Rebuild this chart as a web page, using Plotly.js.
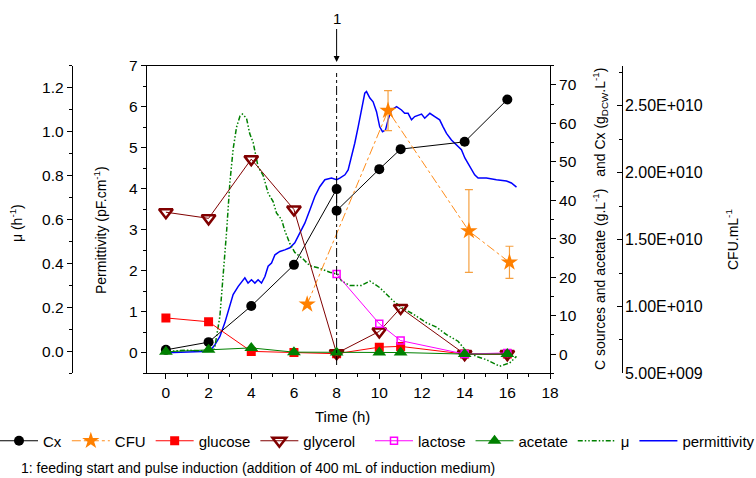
<!DOCTYPE html>
<html><head><meta charset="utf-8">
<script src="https://cdn.plot.ly/plotly-3.0.1.min.js"></script>
<style>html,body{margin:0;padding:0;background:#fff}#chart{width:756px;height:478px}</style>
</head><body><div id="chart"></div>
<script>
// ---- data ----
const cxTime = [0, 2, 4, 6, 8, 8, 10, 11, 14, 16];
const cxValues = [1.1, 3.1, 12.5, 23.2, 42.9, 37.3, 48.1, 53.3, 55.2, 66.2];

const cfuTime = [6.62, 10.41, 14.2, 16.1];
const cfuValues = [1.016e10, 2.464e10, 1.564e10, 1.330e10];
const cfuError = [0, 1.5e9, 3.1e9, 1.2e9];

const sampleTime = [0, 2, 4, 6, 8, 10, 11, 14, 16];
const glucoseValues = [9.4, 8.4, 0.7, 0.4, 0.1, 1.8, 2.0, 0, 0];
const glycerolValues = [36.9, 35.3, 50.7, 37.6, 0.2, 5.9, 12.0, 0, 0];
const acetateValues = [0.6, 1.1, 1.6, 0.5, 0.4, 0.4, 0.4, 0, 0];

const lactoseTime = [8, 10, 11, 14, 16];
const lactoseValues = [20.8, 7.9, 3.5, 0, 0.3];

const muTime = [0, 1.0, 2.22, 2.3, 2.53, 2.68, 2.84, 3.0, 3.15, 3.31, 3.47, 3.59, 3.78, 3.93, 4.09, 4.32, 4.56, 4.79, 5.03, 5.18, 5.42, 5.57, 5.81, 6.04, 6.43, 6.74, 7.13, 7.68, 8.07, 8.23, 8.62, 9.17, 9.56, 10.02, 10.34, 10.65, 11.04, 11.58, 12.21, 12.68, 13.15, 13.69, 14.08, 14.55, 15.02, 15.49, 15.64, 16.11, 16.43];
const muValues = [0, 0.005, 0.0, 0.023, 0.16, 0.33, 0.54, 0.77, 0.92, 1.02, 1.07, 1.08, 1.06, 0.99, 0.95, 0.84, 0.80, 0.72, 0.68, 0.63, 0.60, 0.55, 0.49, 0.45, 0.42, 0.39, 0.38, 0.36, 0.35, 0.32, 0.30, 0.30, 0.32, 0.29, 0.26, 0.23, 0.20, 0.17, 0.13, 0.11, 0.076, 0.046, 0.0, -0.023, -0.038, -0.06, -0.068, -0.053, -0.023];

const permTime = [0, 1.6, 2.06, 2.3, 2.53, 2.76, 3.0, 3.15, 3.39, 3.55, 3.7, 3.85, 4.01, 4.17, 4.32, 4.48, 4.64, 4.79, 4.95, 5.11, 5.34, 5.57, 5.81, 6.04, 6.27, 6.51, 6.75, 6.98, 7.21, 7.45, 7.76, 8.0, 8.15, 8.39, 8.54, 8.7, 8.85, 9.01, 9.17, 9.32, 9.4, 9.56, 9.71, 9.87, 10.02, 10.15, 10.29, 10.41, 10.57, 10.81, 11.04, 11.19, 11.35, 11.51, 11.66, 11.98, 12.13, 12.37, 12.6, 12.83, 12.99, 13.15, 13.38, 13.62, 13.85, 14.01, 14.24, 14.47, 14.63, 15.02, 15.49, 15.96, 16.19, 16.43];
const permValues = [0.0, 0.02, 0.04, 0.2, 0.4, 0.73, 1.13, 1.42, 1.62, 1.74, 1.83, 1.7, 1.78, 1.7, 1.78, 1.7, 1.86, 2.11, 2.19, 2.39, 2.47, 2.51, 2.56, 2.68, 2.92, 3.16, 3.49, 3.81, 4.05, 4.22, 4.26, 4.22, 4.26, 4.34, 4.46, 4.78, 5.11, 5.51, 5.92, 6.33, 6.37, 6.21, 6.12, 5.88, 5.51, 5.39, 5.43, 5.68, 5.92, 6.0, 5.92, 5.84, 5.84, 5.68, 5.76, 5.82, 5.72, 5.84, 5.76, 5.68, 5.51, 5.35, 5.19, 5.07, 4.95, 4.75, 4.54, 4.34, 4.26, 4.26, 4.22, 4.19, 4.14, 4.04];

const cfuTickVals = [5e9, 1e10, 1.5e10, 2e10, 2.5e10];
const cfuTickText = ['5.00E+009', '1.00E+010', '1.50E+010', '2.00E+010', '2.50E+010'];
const cfuMinorVals = [7.5e9, 1.25e10, 1.75e10, 2.25e10, 2.75e10];
const feedTime = 8;

// ---- layout geometry ----
const W = 756, H = 478;
const FONT = 'Liberation Sans, Arial, Helvetica, sans-serif';
const px = v => v / W;
const py = v => 1 - v / H;
const yDom = [py(373.3), py(65.7)];
const tickFont = {family: FONT, size: 15.5, color: '#000'};

const traces = [
  {x: cxTime, y: cxValues, yaxis: 'y3', name: 'Cx', mode: 'lines+markers', legend: 'legend',
   line: {color: '#000', width: 1}, marker: {symbol: 'circle', size: 10, color: '#000'}},
  {x: cfuTime, y: cfuValues, yaxis: 'y4', name: 'CFU', mode: 'lines+markers', legend: 'legend',
   line: {color: '#FF8C1A', width: 1, dash: 'dashdot'},
   marker: {symbol: 'star', size: 13, color: '#FF8000'},
   error_y: {type: 'data', array: cfuError, visible: true, color: '#F5A040', thickness: 1.2, width: 4}},
  {x: sampleTime, y: glucoseValues, yaxis: 'y3', name: 'glucose', mode: 'lines+markers', legend: 'legend',
   line: {color: '#FF0000', width: 1}, marker: {symbol: 'square', size: 9, color: '#FF0000'}},
  {x: sampleTime, y: glycerolValues, yaxis: 'y3', name: 'glycerol', mode: 'lines+markers', legend: 'legend',
   line: {color: '#800000', width: 1},
   marker: {symbol: 'triangle-down-open', size: 12, color: '#800000', line: {width: 2.5, color: '#800000'}}},
  {x: lactoseTime, y: lactoseValues, yaxis: 'y3', name: 'lactose', mode: 'lines+markers', legend: 'legend2',
   line: {color: '#FF00FF', width: 1},
   marker: {symbol: 'square-open', size: 7, color: '#FF00FF', line: {width: 1.5, color: '#FF00FF'}}},
  {x: sampleTime, y: acetateValues, yaxis: 'y3', name: 'acetate', mode: 'lines+markers', legend: 'legend2',
   line: {color: '#008000', width: 1}, marker: {symbol: 'triangle-up', size: 12, color: '#008000'}},
  {x: muTime, y: muValues, yaxis: 'y2', name: 'μ', mode: 'lines', legend: 'legend2',
   line: {color: '#008000', width: 1.5, dash: '5px,2px,1.5px,2px,1.5px,2px'}},
  {x: permTime, y: permValues, yaxis: 'y', name: 'permittivity', mode: 'lines', legend: 'legend2',
   line: {color: '#0000FF', width: 1.5}}
];

const axisCommon = {
  showgrid: false, zeroline: false, showline: true, linecolor: '#000', linewidth: 1,
  tickcolor: '#000', tickfont: tickFont, ticklen: 5, tickwidth: 1
};

function title(text, x, y, angle, size) {
  return {x: px(x), y: py(y), xref: 'paper', yref: 'paper', xanchor: 'center', yanchor: 'middle',
          text: text, textangle: angle, showarrow: false,
          font: {family: FONT, size: size, color: '#000'}};
}

const legendCommon = {
  orientation: 'h', xanchor: 'left', y: py(441), yanchor: 'middle', itemwidth: 38,
  font: {family: FONT, size: 15, color: '#000'}, bgcolor: 'rgba(0,0,0,0)', traceorder: 'normal'
};

const layout = {
  width: W, height: H, autosize: false,
  margin: {l: 0, r: 0, t: 0, b: 0, autoexpand: false},
  paper_bgcolor: '#fff', plot_bgcolor: 'rgba(0,0,0,0)',
  font: {family: FONT, color: '#000'},
  xaxis: Object.assign({}, axisCommon, {
    domain: [px(146.7), px(550)], range: [-0.9, 18], dtick: 2, tick0: 0,
    ticks: 'outside', mirror: true,
    minor: {dtick: 1, ticks: 'outside', ticklen: 3, tickcolor: '#000'}
  }),
  yaxis: Object.assign({}, axisCommon, {
    domain: yDom, range: [-0.5, 7], dtick: 1, tick0: 0, ticks: 'outside', side: 'left',
    minor: {dtick: 0.5, ticks: 'outside', ticklen: 3, tickcolor: '#000'}
  }),
  yaxis2: Object.assign({}, axisCommon, {
    overlaying: 'y', anchor: 'free', position: px(71.7), side: 'left',
    range: [-0.1, 1.3], dtick: 0.2, tick0: 0, tickformat: '.1f', ticks: 'outside',
    minor: {dtick: 0.1, ticks: 'outside', ticklen: 3, tickcolor: '#000'}
  }),
  yaxis3: Object.assign({}, axisCommon, {
    overlaying: 'y', anchor: 'x', side: 'right',
    range: [-5, 75], dtick: 10, tick0: 0, ticks: 'outside',
    minor: {dtick: 5, ticks: 'outside', ticklen: 3, tickcolor: '#000'}
  }),
  yaxis4: Object.assign({}, axisCommon, {
    overlaying: 'y', anchor: 'free', position: px(621.7), side: 'right',
    range: [5e9, 2.8e10], tickmode: 'array', tickvals: cfuTickVals, ticktext: cfuTickText,
    ticks: 'inside', ticklabelstandoff: -1,
    tickfont: {family: FONT, size: 16, color: '#000'},
    minor: {tickmode: 'array', tickvals: cfuMinorVals, ticks: 'inside', ticklen: 3, tickcolor: '#000'}
  }),
  showlegend: true,
  legend: Object.assign({}, legendCommon, {x: px(-5)}),
  legend2: Object.assign({}, legendCommon, {x: px(370)}),
  shapes: [{
    type: 'line', xref: 'x', yref: 'paper', x0: feedTime, x1: feedTime,
    y0: py(365), y1: py(73), line: {color: '#000', width: 1, dash: 'dashdot'}
  }],
  annotations: [
    {x: feedTime, xref: 'x', y: py(62), yref: 'paper', text: '1', showarrow: true,
     arrowhead: 2, arrowsize: 1.2, arrowwidth: 1, arrowcolor: '#000', ax: 0, ay: -43,
     font: {family: FONT, size: 15, color: '#000'}},
    title('Time (h)', 342, 416, 0, 15),
    title('μ (h<sup>-1</sup>)', 16, 223, -90, 14),
    title('Permittivity (pF.cm<sup>-1</sup>)', 100, 230, -90, 14),
    title('C sources and acetate (g.L<sup>-1</sup>)\u00A0\u00A0\u00A0and Cx (g<sub>DCW</sub>.L<sup>-1</sup>)', 600, 219, -90, 14),
    title('CFU.mL<sup>-1</sup>', 732, 240, -90, 14),
    {x: px(19), y: py(468), xref: 'paper', yref: 'paper', xanchor: 'left', yanchor: 'middle',
     text: '1: feeding start and pulse induction (addition of 400 mL of induction medium)',
     showarrow: false, font: {family: FONT, size: 14, color: '#000'}}
  ]
};

Plotly.newPlot('chart', traces, layout, {staticPlot: true, displayModeBar: false});
</script>
</body></html>
